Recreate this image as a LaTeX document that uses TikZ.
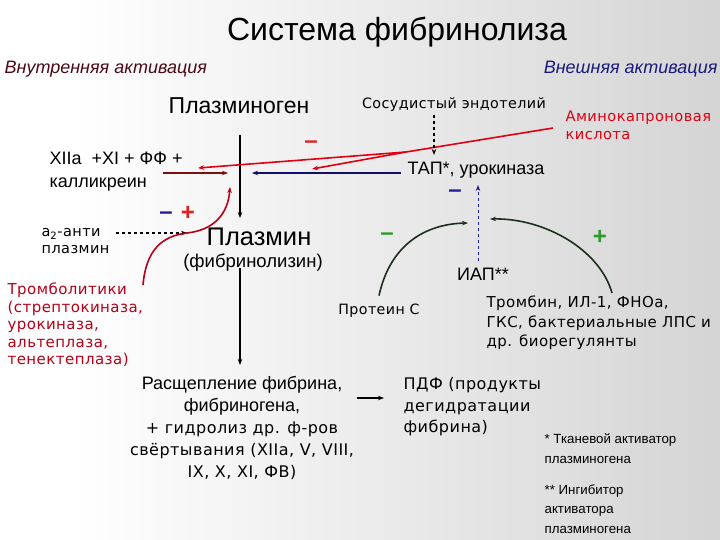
\documentclass[tikz,border=0pt]{standalone}
\usepackage{fontspec}
\setmainfont{Liberation Sans}
\newfontfamily\humfont[LetterSpace=3]{DejaVu Sans}
\usetikzlibrary{arrows.meta,positioning}

\definecolor{intred}{HTML}{4A0A14}
\definecolor{extblue}{HTML}{1A1A7A}
\definecolor{aminored}{HTML}{E00010}
\definecolor{thromred}{HTML}{B80018}
\definecolor{darkred}{HTML}{7A1010}
\definecolor{navy}{HTML}{101068}
\definecolor{signred}{HTML}{E02020}
\definecolor{signblue}{HTML}{20209A}
\definecolor{signgreen}{HTML}{2A9A2A}
\definecolor{arcgreen}{HTML}{1A301A}

\pgfdeclarehorizontalshading{bgshade}{100bp}{color(0bp)=(white); color(30bp)=(white); color(100bp)=(black!26)}

\newcommand{\fs}[2]{\fontsize{#1}{#2}\selectfont}

\begin{document}
\begin{tikzpicture}[
    x = 1pt, y = -1pt, % pixel grid, y down
    > = {Stealth[length=6pt,width=4.5pt]}, % arrow head style
    line width = 1.2pt
    ]

    \tikzset{
    txt/.style = {inner sep = 0pt, align = left},
    sign/.style = {inner sep = 0pt, font = \bfseries\fs{24}{24}},
    hum/.style = {txt, font = \humfont\fs{14.5}{17}},
    redline/.style = {line width = 1.6pt}
    }

    % background
    \shade[shading = bgshade] (0,0) rectangle (720,540);
    \useasboundingbox (0,0) rectangle (720,540);

    % headings
    \node[txt, font = \fs{32}{34}] (title) at (397,32) {Система фибринолиза};
    \node[txt, anchor = west, text = intred, font = \itshape\fs{18}{20}] (inner) at (4,69) {Внутренняя активация};
    \node[txt, anchor = east, text = extblue, font = \itshape\fs{18}{20}] (outer) at (718,69) {Внешняя активация};

    % nodes
    \node[txt, font = \fs{23}{25}] (pg) at (239,106) {Плазминоген};
    \node[hum, font = \humfont\fs{14.3}{17}] (endo) at (454,105) {Сосудистый эндотелий};
    \node[hum, anchor = west, text = aminored, font = \humfont\fs{14.6}{18}] (amk) at (565,125) {Аминокапроновая\\кислота};
    \node[txt, anchor = west, font = \fs{18}{23}] (xii) at (49,171.5) {XIIa \ +XI + ФФ +\\калликреин};
    \node[txt, font = \fs{18}{20}] (tap) at (476,170) {ТАП*, урокиназа};
    \node[hum, anchor = west, font = \humfont\fs{14.5}{17}] (a2) at (41,241.5) {a\textsubscript{2}-анти\\плазмин};
    \node[txt, font = \fs{25.5}{27}] (pl) at (259,237) {Плазмин};
    \node[txt, font = \fs{18.5}{20}] (fl) at (253,263) {(фибринолизин)};
    \node[txt, font = \fs{18}{20}] (iap) at (483,274) {ИАП**};
    \node[hum, font = \humfont\fs{14.2}{17}] (protc) at (379,311) {Протеин С};
    \node[hum, anchor = west, font = \humfont\fs{15}{19.5}] (bioreg) at (486,323) {Тромбин, ИЛ-1, ФНОа,\\ГКС, бактериальные ЛПС и\\др. биорегулянты};
    \node[hum, anchor = west, text = thromred, font = \humfont\fs{15}{17.5}] (trl) at (7,325) {Тромболитики\\(стрептокиназа,\\урокиназа,\\альтеплаза,\\тенектеплаза)};
    \node[txt, align = center, font = \fs{18}{22}] (split) at (242,428) {Расщепление фибрина,\\фибриногена,\\{\humfont\fs{16}{22}+ гидролиз др. ф-ров}\\{\humfont\fs{16}{22}свёртывания (XIIa, V, VIII,}\\{\humfont\fs{16}{22}IX, X, XI, ФВ)}};
    \node[hum, anchor = west, font = \humfont\fs{16}{21.5}] (pdf) at (403,407) {ПДФ (продукты\\дегидратации\\фибрина)};
    \node[txt, anchor = west, font = \fs{13.3}{20}] (note1) at (544,449) {* Тканевой активатор\\плазминогена};
    \node[txt, anchor = west, font = \fs{13.3}{19.5}] (note2) at (544,509) {** Ингибитор\\активатора\\плазминогена};

    % signs
    \node[sign, text = signred] (mpg) at (311,145) {–};
    \node[sign, text = signblue] (ma2) at (166,216) {–};
    \node[sign, text = signred] (pa2) at (188,213) {+};
    \node[sign, text = signblue] (mtap) at (455,194) {–};
    \node[sign, text = signgreen] (mpc) at (387,237) {–};
    \node[sign, text = signgreen] (pbio) at (600,237) {+};

    % junction points
    \coordinate (pgtop) at (240,135);
    \coordinate (pgbot) at (240,218);
    \coordinate (xiiend) at (228,173);
    \coordinate (amkend) at (198,168);
    \coordinate (branch) at (406,152);
    \coordinate (amkend2) at (312,169);
    \coordinate (tapend) at (252,173);
    \coordinate (tapin) at (434,155);
    \coordinate (iapup) at (478,185);
    \coordinate (pcend) at (468,223);
    \coordinate (bioend) at (490,219);
    \coordinate (trlstart) at (143,285);
    \coordinate (trlend) at (230,187);
    \coordinate (sbend) at (187,233);
    \coordinate (splin) at (240,365);
    \coordinate (pdfin) at (384,398);

    % plasminogen -> plasmin
    \draw[->] (pgtop) -- (pgbot);
    \draw[->] (fl.south -| splin) ++(0,-4) -- (splin);
    \draw[->] (pdfin -| split.east) ++(2,0) -- (pdfin);

    % internal activation
    \draw[->, darkred, redline] (xii.east |- xiiend) ++(-20,0) -- (xiiend);
    \draw[dashed, ->] (a2.east |- sbend) ++(6,0) -- (sbend);
    \draw[->, thromred, redline] (trlstart) .. controls (146,250) and (162,236) .. (sbend)
        .. controls (214,230) and (228,214) .. (trlend);

    % aminocaproic acid
    \draw[aminored, redline] ([xshift=-12pt, yshift=-3pt]amk.west) -- (branch);
    \draw[->, aminored, redline] (branch) -- (amkend);
    \draw[->, aminored, redline] (branch) -- (amkend2);

    % external activation
    \draw[->, navy, redline] (tap.west) ++(-6,3) -- (tapend);
    \draw[dashed, ->] (endo.south -| tapin) ++(0,2) -- (tapin);
    \draw[dashed, ->, signblue, line width = 1pt] (iapup |- iap.north) ++(0,-6) -- (iapup);
    \draw[->, arcgreen, redline] (protc.north) ++(0,-8) .. controls (390,245) and (425,224) .. (pcend);
    \draw[->, arcgreen, redline] (612,293) .. controls (600,250) and (545,218) .. (bioend);
\end{tikzpicture}
\end{document}
